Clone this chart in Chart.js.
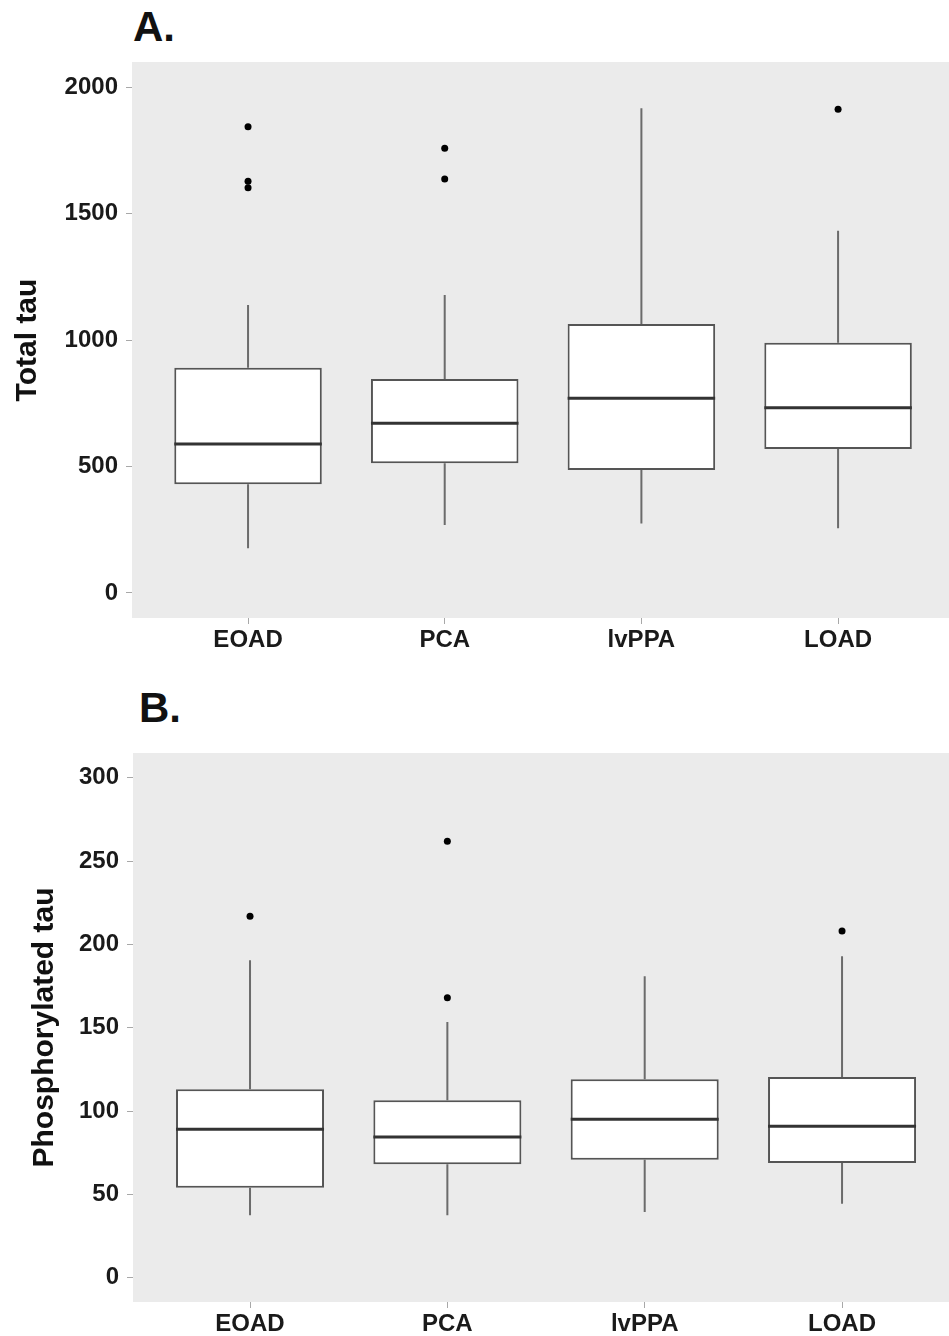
<!DOCTYPE html>
<html lang="en">
<head>
    <meta charset="UTF-8">
    <title>Total and phosphorylated tau by group</title>
    <script src="https://cdn.jsdelivr.net/npm/chart.js"></script>
    <style>
        body { margin: 0; background: #fff; width: 949px; height: 1336px; overflow: hidden; position: relative; }
        .panel { position: absolute; left: 0; }
        .letter { position: absolute; font-family: 'Liberation Sans', Arial, sans-serif; font-weight: bold; font-size: 42px; line-height: 1; color: #111; }
    </style>
</head>
<body>
    <div class="letter" style="left:133px; top:6px;">A.</div>
    <div class="panel" style="top:0px;"><canvas id="chartA" width="949" height="668"></canvas></div>

    <div class="letter" style="left:139px; top:687px;">B.</div>
    <div class="panel" style="top:668px;"><canvas id="chartB" width="949" height="668"></canvas></div>

    <script>
        // groups along the x axis
        const groups = ['EOAD', 'PCA', 'lvPPA', 'LOAD'];

        // A. Total tau (whisker ends, hinges, medians, outliers)
        const totalLow = [177, 269, 275, 256];
        const totalQ1 = [430, 513, 486, 569];
        const totalMedian = [589, 671, 770, 732];
        const totalQ3 = [890, 846, 1063, 989];
        const totalHigh = [1138, 1178, 1916, 1432];
        const totalOutliers = [[1843, 1628, 1602], [1758, 1636], [], [1912]];
        const totalTicks = [0, 500, 1000, 1500, 2000];

        // B. Phosphorylated tau
        const ptauLow = [37.4, 37.4, 39.4, 44.4];
        const ptauQ1 = [54, 68, 70.8, 68.8];
        const ptauMedian = [89, 84.4, 95, 90.8];
        const ptauQ3 = [113, 106.4, 119, 120.4];
        const ptauHigh = [190.4, 153.4, 180.8, 192.8];
        const ptauOutliers = [[216.8], [261.8, 168], [], [208]];
        const ptauTicks = [0, 50, 100, 150, 200, 250, 300];

        Chart.defaults.font.family = "'Liberation Sans', Arial, sans-serif";

        // grey panel behind the plot area
        const panelBg = {
            id: 'panelBg',
            beforeDraw(chart) {
                const a = chart.chartArea;
                const ctx = chart.ctx;
                ctx.save();
                ctx.fillStyle = '#ebebeb';
                ctx.fillRect(a.left, a.top, a.right - a.left, a.bottom - a.top);
                ctx.restore();
            }
        };

        function createBoxChart(id, s) {
            const halfBox = 0.375;
            const boxes = [], whiskers = [], medians = [], points = [];
            groups.forEach((g, i) => {
                const x = i + 1;
                boxes.push({ x: x, y: [s.q1[i], s.q3[i]] });
                whiskers.push({ x: x, y: s.q3[i] }, { x: x, y: s.high[i] }, { x: x, y: null },
                              { x: x, y: s.low[i] }, { x: x, y: s.q1[i] }, { x: x, y: null });
                medians.push({ x: x - halfBox, y: s.median[i] }, { x: x + halfBox, y: s.median[i] }, { x: x, y: null });
                s.outliers[i].forEach(v => points.push({ x: x, y: v }));
            });

            const ctx = document.getElementById(id).getContext('2d');
            return new Chart(ctx, {
                type: 'bar',
                data: {
                    datasets: [
                        {
                            type: 'line', data: whiskers, order: 3,
                            borderColor: '#6b6b6b', borderWidth: 2, pointRadius: 0, spanGaps: false
                        },
                        {
                            type: 'bar', data: boxes, order: 2,
                            backgroundColor: '#ffffff', borderColor: '#555555', borderWidth: 2,
                            borderSkipped: false, barPercentage: 0.9375, categoryPercentage: 0.8
                        },
                        {
                            type: 'line', data: medians, order: 1,
                            borderColor: '#333333', borderWidth: 3, pointRadius: 0, spanGaps: false
                        },
                        {
                            type: 'scatter', data: points, order: 0,
                            backgroundColor: '#000000', borderWidth: 0, pointRadius: 3.5
                        }
                    ]
                },
                options: {
                    responsive: false,
                    animation: false,
                    layout: { autoPadding: false, padding: { top: s.padTop, right: 0, left: 0, bottom: 0 } },
                    plugins: { legend: { display: false }, tooltip: { enabled: false } },
                    scales: {
                        x: {
                            type: 'linear', offset: false,
                            min: s.xMin, max: s.xMax,
                            afterBuildTicks: sc => { sc.ticks = groups.map((g, i) => ({ value: i + 1 })); },
                            afterFit: sc => { sc.height = s.xAxisHeight; sc.paddingLeft = 0; sc.paddingRight = 0; },
                            grid: { offset: false, drawOnChartArea: false, tickLength: 6, tickColor: '#a8a8a8', lineWidth: 1 },
                            border: { display: false },
                            ticks: {
                                autoSkip: false, maxRotation: 0, padding: 2, color: '#1a1a1a',
                                font: { size: 24, weight: 'bold' },
                                callback: v => groups[v - 1]
                            }
                        },
                        y: {
                            min: s.yMin, max: s.yMax,
                            afterBuildTicks: sc => { sc.ticks = s.ticks.map(v => ({ value: v })); },
                            afterFit: sc => { sc.width = s.yAxisWidth; },
                            grid: { drawOnChartArea: false, tickLength: 6, tickColor: '#a8a8a8', lineWidth: 1 },
                            border: { display: false },
                            ticks: {
                                padding: 8, color: '#1a1a1a', font: { size: 24, weight: 'bold' },
                                callback: v => String(v)
                            },
                            title: {
                                display: true, text: s.title, color: '#111111',
                                font: { size: 30, weight: 'bold', lineHeight: 1 },
                                padding: { top: s.titlePad, bottom: 0 }
                            }
                        }
                    }
                },
                plugins: [panelBg]
            });
        }

        createBoxChart('chartA', {
            low: totalLow, q1: totalQ1, median: totalMedian, q3: totalQ3, high: totalHigh,
            outliers: totalOutliers, ticks: totalTicks, title: 'Total tau',
            yMin: -99, yMax: 2099, xMin: 0.41, xMax: 4.564,
            padTop: 62, xAxisHeight: 50, yAxisWidth: 132, titlePad: 13
        });

        createBoxChart('chartB', {
            low: ptauLow, q1: ptauQ1, median: ptauMedian, q3: ptauQ3, high: ptauHigh,
            outliers: ptauOutliers, ticks: ptauTicks, title: 'Phosphorylated tau',
            yMin: -14.6, yMax: 314.8, xMin: 0.407, xMax: 4.542,
            padTop: 85, xAxisHeight: 34, yAxisWidth: 133, titlePad: 30
        });
    </script>
</body>
</html>
